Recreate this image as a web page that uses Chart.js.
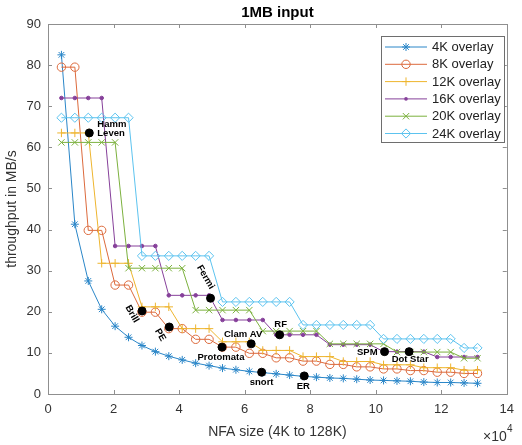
<!DOCTYPE html>
<html>
<head>
<meta charset="utf-8">
<title>1MB input</title>
<script src="https://cdn.jsdelivr.net/npm/chart.js"></script>
<style>
	body { margin: 0; background: #fff; }
	#wrap { width: 522px; height: 445px; }
</style>
</head>
<body>
<div id="wrap"><canvas id="chart" width="522" height="445"></canvas></div>

<script type="text/javascript">
	// NFA sizes in K states, x axis is shown in units of 10^4
	var nfaSizeK = [4, 8, 12, 16, 20, 24, 28, 32, 36, 40, 44, 48, 52, 56, 60, 64,
		68, 72, 76, 80, 84, 88, 92, 96, 100, 104, 108, 112, 116, 120, 124, 128];

	var seriesLabels = ['4K overlay', '8K overlay', '12K overlay', '16K overlay', '20K overlay', '24K overlay'];

	var tp4K = [82.5, 41.3, 27.5, 20.6, 16.5, 13.8, 11.8, 10.3, 9.2, 8.3, 7.5, 6.9, 6.3, 5.9, 5.5, 5.2,
		4.9, 4.6, 4.3, 4.1, 3.9, 3.8, 3.6, 3.4, 3.3, 3.2, 3.1, 2.9, 2.8, 2.8, 2.7, 2.6];
	var tp8K = [79.5, 79.5, 39.8, 39.8, 26.5, 26.5, 19.9, 19.9, 15.9, 15.9, 13.3, 13.3, 11.4, 11.4, 9.9, 9.9,
		8.8, 8.8, 8.0, 8.0, 7.2, 7.2, 6.6, 6.6, 6.1, 6.1, 5.7, 5.7, 5.3, 5.3, 5.0, 5.0];
	var tp12K = [63.5, 63.5, 63.5, 31.8, 31.8, 31.8, 21.2, 21.2, 21.2, 15.9, 15.9, 15.9, 12.7, 12.7, 12.7, 10.6,
		10.6, 10.6, 9.1, 9.1, 9.1, 7.9, 7.9, 7.9, 7.1, 7.1, 7.1, 6.4, 6.4, 6.4, 5.8, 5.8];
	var tp16K = [72, 72, 72, 72, 36, 36, 36, 36, 24, 24, 24, 24, 18, 18, 18, 18,
		14.4, 14.4, 14.4, 14.4, 12, 12, 12, 12, 10.3, 10.3, 10.3, 10.3, 9, 9, 9, 9];
	var tp20K = [61.2, 61.2, 61.2, 61.2, 61.2, 30.6, 30.6, 30.6, 30.6, 30.6, 20.4, 20.4, 20.4, 20.4, 20.4, 15.3,
		15.3, 15.3, 15.3, 15.3, 12.2, 12.2, 12.2, 12.2, 12.2, 10.2, 10.2, 10.2, 10.2, 10.2, 8.7, 8.7];
	var tp24K = [67.2, 67.2, 67.2, 67.2, 67.2, 67.2, 33.6, 33.6, 33.6, 33.6, 33.6, 33.6, 22.4, 22.4, 22.4, 22.4,
		22.4, 22.4, 16.8, 16.8, 16.8, 16.8, 16.8, 16.8, 13.4, 13.4, 13.4, 13.4, 13.4, 13.4, 11.2, 11.2];

	// benchmark points (black dots)
	var benchNames = ['Hamm\nLeven', 'Brill', 'PE', 'Fermi', 'Protomata', 'Clam AV', 'snort', 'RF', 'ER', 'SPM', 'Dot Star'];
	var benchX = [1.26, 2.87, 3.70, 4.96, 5.31, 6.20, 6.52, 7.07, 7.82, 10.27, 11.02];
	var benchY = [63.5, 20.2, 16.3, 23.3, 11.4, 12.2, 5.3, 14.4, 4.4, 10.3, 10.3];

	var xTicks = [0, 2, 4, 6, 8, 10, 12, 14];
	var yTicks = [0, 10, 20, 30, 40, 50, 60, 70, 80, 90];

	var xValues = nfaSizeK.map(function (k) { return k * 1024 / 10000; });

	function toPoints(ys) {
		return ys.map(function (y, i) { return {x: xValues[i], y: y}; });
	}

	var colors = ['#2a86c8', '#dc6a3c', '#eeb52e', '#86409a', '#7cb13e', '#5cc3ef'];
	var styles = [
		{p: 'star', r: 4},
		{p: 'circle', r: 4.2},
		{p: 'cross', r: 4.2},
		{p: 'dot', r: 1.8},
		{p: 'crossRot', r: 4.5},
		{p: 'rectRot', r: 4.6}
	];
	var allSeries = [tp4K, tp8K, tp12K, tp16K, tp20K, tp24K];

	var datasets = allSeries.map(function (s, i) {
		var st = styles[i];
		return {
			label: seriesLabels[i],
			data: toPoints(s),
			borderColor: colors[i],
			borderWidth: 1,
			pointStyle: st.p == 'dot' ? 'circle' : st.p,
			pointRadius: st.r,
			pointBorderColor: colors[i],
			pointBackgroundColor: st.p == 'dot' ? colors[i] : 'rgba(0,0,0,0)',
			pointBorderWidth: 1,
			tension: 0,
			fill: false,
			order: 6 - i
		};
	});

	datasets.push({
		label: 'bench',
		data: benchX.map(function (x, i) { return {x: x, y: benchY[i]}; }),
		showLine: false,
		pointStyle: 'circle',
		pointRadius: 4,
		pointBackgroundColor: '#000',
		pointBorderColor: '#000',
		order: 0
	});

	// where each benchmark label sits around its dot
	var labelPlace = [
		{dx: 8, dy: -9, align: 'left', rot: 0},
		{dx: -10, dy: 3, align: 'center', rot: 60},
		{dx: -9, dy: 8, align: 'center', rot: 60},
		{dx: -5, dy: -21, align: 'center', rot: 60},
		{dx: -1, dy: 10, align: 'center', rot: 0},
		{dx: -8, dy: -9, align: 'center', rot: 0},
		{dx: 0, dy: 10, align: 'center', rot: 0},
		{dx: 1, dy: -10, align: 'center', rot: 0},
		{dx: -1, dy: 10, align: 'center', rot: 0},
		{dx: -7, dy: 1, align: 'right', rot: 0},
		{dx: 1, dy: 8, align: 'center', rot: 0}
	];

	function marker(ctx, p, x, y, r, color) {
		ctx.save();
		ctx.strokeStyle = color;
		ctx.fillStyle = color;
		ctx.lineWidth = 1;
		ctx.beginPath();
		var angs = [];
		if (p == 'star') angs = [0, 45, 90, 135];
		if (p == 'cross') angs = [0, 90];
		if (p == 'crossRot') angs = [45, 135];
		angs.forEach(function (a) {
			var c = Math.cos(a * Math.PI / 180) * r, s = Math.sin(a * Math.PI / 180) * r;
			ctx.moveTo(x + c, y + s);
			ctx.lineTo(x - c, y - s);
		});
		if (p == 'circle' || p == 'dot') ctx.arc(x, y, r, 0, Math.PI * 2);
		if (p == 'rectRot') {
			ctx.moveTo(x, y - r); ctx.lineTo(x + r, y); ctx.lineTo(x, y + r); ctx.lineTo(x - r, y); ctx.closePath();
		}
		if (p == 'dot') ctx.fill(); else ctx.stroke();
		ctx.restore();
	}

	var decor = {
		id: 'decor',
		afterDraw: function (chart) {
			var ctx = chart.ctx, a = chart.chartArea;
			var xs = chart.scales.x, ys = chart.scales.y;
			ctx.save();

			// axes box with inward ticks
			ctx.strokeStyle = '#8f8f8f';
			ctx.lineWidth = 1;
			ctx.strokeRect(Math.round(a.left) + 0.5, Math.round(a.top) + 0.5,
				Math.round(a.right - a.left), Math.round(a.bottom - a.top));
			ctx.beginPath();
			xTicks.forEach(function (t) {
				var px = Math.round(xs.getPixelForValue(t)) + 0.5;
				ctx.moveTo(px, a.bottom); ctx.lineTo(px, a.bottom - 4);
				ctx.moveTo(px, a.top); ctx.lineTo(px, a.top + 4);
			});
			yTicks.forEach(function (t) {
				var py = Math.round(ys.getPixelForValue(t)) + 0.5;
				ctx.moveTo(a.left, py); ctx.lineTo(a.left + 4, py);
				ctx.moveTo(a.right, py); ctx.lineTo(a.right - 4, py);
			});
			ctx.stroke();

			// title
			ctx.fillStyle = '#000';
			ctx.font = 'bold 15px "Liberation Sans", Arial, sans-serif';
			ctx.textAlign = 'center';
			ctx.textBaseline = 'middle';
			ctx.fillText('1MB input', (a.left + a.right) / 2, 13);

			// x10^4 exponent
			ctx.fillStyle = '#333';
			ctx.font = '14px "Liberation Sans", Arial, sans-serif';
			ctx.textAlign = 'left';
			ctx.fillText('\u00d710', 483, 437);
			ctx.font = '10px "Liberation Sans", Arial, sans-serif';
			ctx.fillText('4', 507, 429);

			// benchmark labels
			var meta = chart.getDatasetMeta(6);
			ctx.fillStyle = '#000';
			ctx.font = 'bold 9.5px "Liberation Sans", Arial, sans-serif';
			meta.data.forEach(function (pt, i) {
				var lp = labelPlace[i];
				var lines = benchNames[i].split('\n');
				ctx.save();
				ctx.translate(pt.x + lp.dx, pt.y + lp.dy);
				ctx.rotate(lp.rot * Math.PI / 180);
				ctx.textAlign = lp.align;
				ctx.textBaseline = 'middle';
				lines.forEach(function (ln, k) { ctx.fillText(ln, 0, k * 9); });
				ctx.restore();
			});

			// legend
			var lx = 381, ly = 36, lw = 123, lh = 106;
			ctx.fillStyle = '#fff';
			ctx.fillRect(lx, ly, lw, lh);
			ctx.strokeStyle = '#6e6e6e';
			ctx.strokeRect(lx + 0.5, ly + 0.5, lw, lh);
			ctx.font = '13px "Liberation Sans", Arial, sans-serif';
			ctx.textAlign = 'left';
			ctx.textBaseline = 'middle';
			seriesLabels.forEach(function (lab, i) {
				var y = ly + 11 + i * 17.3;
				ctx.strokeStyle = colors[i];
				ctx.beginPath();
				ctx.moveTo(lx + 4, y); ctx.lineTo(lx + 46, y);
				ctx.stroke();
				marker(ctx, styles[i].p, lx + 25, y, styles[i].r, colors[i]);
				ctx.fillStyle = '#222';
				ctx.fillText(lab, lx + 51, y + 0.5);
			});
			ctx.restore();
		}
	};

	var config = {
		type: 'line',
		data: {datasets: datasets},
		options: {
			responsive: false,
			animation: false,
			devicePixelRatio: 1,
			layout: {padding: {top: 24, left: 0, right: 0, bottom: 0}},
			plugins: {
				legend: {display: false},
				title: {display: false},
				tooltip: {enabled: false}
			},
			scales: {
				x: {
					type: 'linear',
					min: 0,
					max: 14,
					afterFit: function (s) { s.height = 51; },
					afterBuildTicks: function (s) { s.ticks = xTicks.map(function (v) { return {value: v}; }); },
					ticks: {color: '#333', font: {size: 13, family: '"Liberation Sans", Arial'}, padding: 8},
					grid: {display: false, drawTicks: false},
					border: {display: false},
					title: {display: true, text: 'NFA size (4K to 128K)', color: '#333',
						font: {size: 14, family: '"Liberation Sans", Arial'}, padding: {top: 0, bottom: 4}}
				},
				y: {
					min: 0,
					max: 90,
					afterFit: function (s) { s.width = 48; },
					afterBuildTicks: function (s) { s.ticks = yTicks.map(function (v) { return {value: v}; }); },
					ticks: {color: '#333', font: {size: 13, family: '"Liberation Sans", Arial'}, padding: 7},
					grid: {display: false, drawTicks: false},
					border: {display: false},
					title: {display: true, text: 'throughput in MB/s', color: '#333',
						font: {size: 14, family: '"Liberation Sans", Arial'}, padding: {top: 4, bottom: 0}}
				}
			}
		},
		plugins: [decor]
	};

	var ctx = document.getElementById('chart').getContext('2d');
	var chart = new Chart(ctx, config);
</script>
</body>
</html>
